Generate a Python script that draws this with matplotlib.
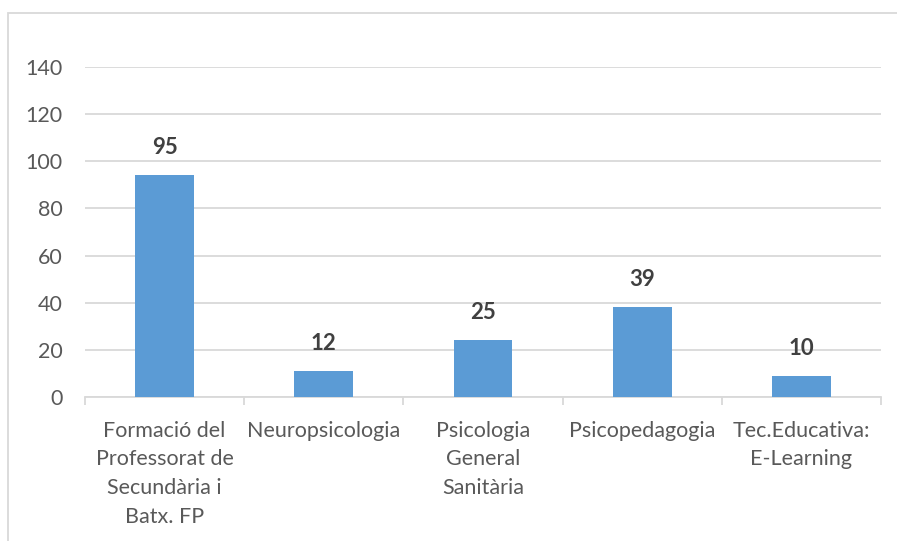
"""
Gràfic de barres: nombre d'estudiants per màster.
"""

import matplotlib
matplotlib.use("Agg")
import matplotlib.pyplot as plt
from matplotlib.patches import Rectangle
import numpy as np

categories = ["Formació del\nProfessorat de\nSecundària i\nBatx. FP",
              "Neuropsicologia",
              "Psicologia\nGeneral\nSanitària",
              "Psicopedagogia",
              "Tec.Educativa:\nE-Learning"]
bar_heights = [94, 11, 24, 38, 9]   # altura real de les barres
bar_labels = ["95", "12", "25", "39", "10"]  # etiquetes mostrades

plt.rcParams['font.family'] = ['Lato', 'DejaVu Sans']

fig = plt.figure(figsize=(8.97, 5.41), dpi=100)
ax = fig.add_axes([85/897, 1-397/541, (881-85)/897, (397-67)/541])

x = np.arange(len(categories))
bars = ax.bar(x, bar_heights, width=0.37, color="#5B9BD5", zorder=3)

for b, lab in zip(bars, bar_labels):
    ax.annotate(lab, (b.get_x() + b.get_width()/2, b.get_height()),
                xytext=(0, 20), textcoords="offset points",
                ha="center", va="center", fontsize=16, fontweight="bold",
                color="#404040")

ax.set_ylim(0, 140)
ax.set_xlim(-0.5, len(categories) - 0.5)
ax.set_yticks(range(0, 141, 20))
ax.yaxis.grid(True, color="#D9D9D9", linewidth=1.3, zorder=0)
ax.tick_params(axis="y", length=0, pad=16, labelsize=15.5, labelcolor="#595959")

ax.set_xticks(x)
ax.set_xticklabels(categories, fontsize=15.5, color="#595959", linespacing=1.55)
ax.set_xticks(np.arange(-0.5, len(categories)), minor=True)
ax.tick_params(axis="x", which="major", length=0, pad=17)
ax.tick_params(axis="x", which="minor", length=6, color="#D9D9D9", width=1.3)

for s in ["top", "right", "left"]:
    ax.spines[s].set_visible(False)
ax.spines["bottom"].set_color("#D9D9D9")
ax.spines["bottom"].set_linewidth(1.3)

# marc gris del gràfic
fig.patches.append(Rectangle((8/897, -0.1), 1.1, 1.1 - 13/541,
                             transform=fig.transFigure, fill=False,
                             edgecolor="#D9D9D9", linewidth=1.3))

plt.savefig("out.png", dpi=100)
plt.close()
